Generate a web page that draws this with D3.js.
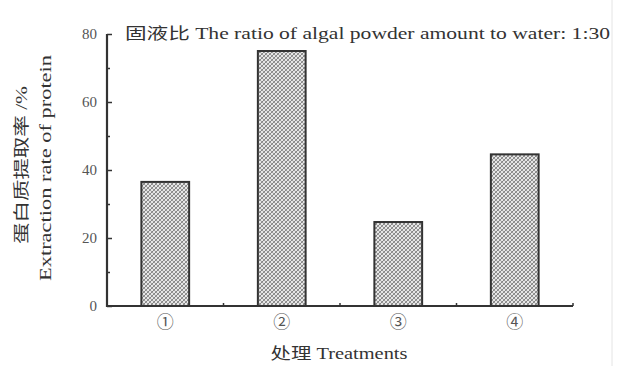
<!DOCTYPE html>
<html><head><meta charset="utf-8">
<script src="https://cdn.jsdelivr.net/npm/d3@7"></script>
<style>body{margin:0;background:#fff;}svg{display:block;}</style>
</head><body>
<script>
const categories = ["①","②","③","④"];
const values = [36.5, 75, 24.7, 44.6];
const yTicks = [0,20,40,60,80];
const yMinorTicks = [10,30,50,70];
const titleText = "固液比 The ratio of algal powder amount to water: 1:30";
const yLabelCn = "蛋白质提取率 /%";
const yLabelEn = "Extraction rate of protein";
const xLabel = "处理 Treatments";

const W = 625, H = 366;
const m = {left:107, right:52, top:34, bottom:60};
const serif = "'Liberation Serif','DejaVu Serif','Noto Sans CJK SC',serif";
const svg = d3.select("body").append("svg").attr("width",W).attr("height",H);

const defs = svg.append("defs");
const pat = defs.append("pattern").attr("id","hatch").attr("patternUnits","userSpaceOnUse")
  .attr("width",4).attr("height",4);
pat.append("rect").attr("width",4).attr("height",4).attr("fill","#e6e6e6");
pat.append("path").attr("d","M-1,1 l2,-2 M0,4 l4,-4 M3,5 l2,-2").attr("stroke","#7a7a7a").attr("stroke-width",0.9);
pat.append("path").attr("d","M-1,3 l2,2 M0,0 l4,4 M3,-1 l2,2").attr("stroke","#8a8a8a").attr("stroke-width",0.8);

const x = d3.scaleBand().domain(categories).range([m.left, W-m.right]).paddingInner(0.59).paddingOuter(0.295);
const y = d3.scaleLinear().domain([0,80]).range([H-m.bottom, m.top]);

svg.append("g").selectAll("rect").data(values).join("rect")
  .attr("x",(d,i)=>x(categories[i]))
  .attr("y",d=>y(d))
  .attr("width",x.bandwidth())
  .attr("height",d=>y(0)-y(d))
  .attr("fill","url(#hatch)")
  .attr("stroke","#333").attr("stroke-width",2);

// y axis
const ya = svg.append("g").attr("transform",`translate(${m.left},0)`)
  .call(d3.axisRight(y).tickValues(yTicks).tickSize(5).tickFormat(""));
ya.select(".domain").remove();
ya.selectAll("line").attr("stroke","#333").attr("stroke-width",1.5);
svg.append("g").attr("transform",`translate(${m.left},0)`)
  .call(d3.axisRight(y).tickValues(yMinorTicks).tickSize(3).tickFormat(""))
  .call(g=>{g.select(".domain").remove();g.selectAll("line").attr("stroke","#333").attr("stroke-width",1.5);});
svg.append("g").selectAll("text").data(yTicks).join("text")
  .attr("x",m.left-10).attr("y",d=>y(d)+5).attr("text-anchor","end")
  .attr("font-family",serif).attr("font-size",15).attr("fill","#555").text(d=>d);
svg.append("line").attr("x1",m.left).attr("x2",m.left).attr("y1",y(80)).attr("y2",y(0)+1)
  .attr("stroke","#333").attr("stroke-width",2.2);

// x axis
svg.append("line").attr("x1",m.left-1).attr("x2",W-m.right).attr("y1",y(0)).attr("y2",y(0))
  .attr("stroke","#333").attr("stroke-width",2.2);
const step = x.step();
const sep = categories.map((c,i)=>x(c)+x.bandwidth()/2+step/2);
svg.append("g").selectAll("line").data(sep).join("line")
  .attr("x1",d=>d).attr("x2",d=>d).attr("y1",y(0)).attr("y2",y(0)-3)
  .attr("stroke","#333").attr("stroke-width",1.5);
svg.append("g").selectAll("text").data(categories).join("text")
  .attr("x",d=>x(d)+x.bandwidth()/2).attr("y",328).attr("text-anchor","middle")
  .attr("font-family","'Noto Sans CJK SC','DejaVu Sans',sans-serif").attr("font-size",17).attr("fill","#555").text(d=>d);

svg.append("text").attr("x",339).attr("y",359).attr("text-anchor","middle")
  .attr("font-family",serif).attr("font-size",16).attr("fill","#333")
  .attr("textLength",137).attr("lengthAdjust","spacingAndGlyphs").text(xLabel);

svg.append("text").attr("x",125).attr("y",39)
  .attr("font-family",serif).attr("font-size",16).attr("fill","#333")
  .attr("textLength",485).attr("lengthAdjust","spacingAndGlyphs").text(titleText);

svg.append("text").attr("transform","translate(27,165) rotate(-90)").attr("text-anchor","middle")
  .attr("font-family",serif).attr("font-size",16).attr("fill","#333")
  .attr("textLength",158).attr("lengthAdjust","spacingAndGlyphs").text(yLabelCn);
svg.append("text").attr("transform","translate(51,168) rotate(-90)").attr("text-anchor","middle")
  .attr("font-family",serif).attr("font-size",16).attr("fill","#333")
  .attr("textLength",226).attr("lengthAdjust","spacingAndGlyphs").text(yLabelEn);

svg.append("line").attr("x1",612).attr("x2",612).attr("y1",0).attr("y2",H).attr("stroke","#e4e4e4").attr("stroke-width",1);
</script>
</body></html>
